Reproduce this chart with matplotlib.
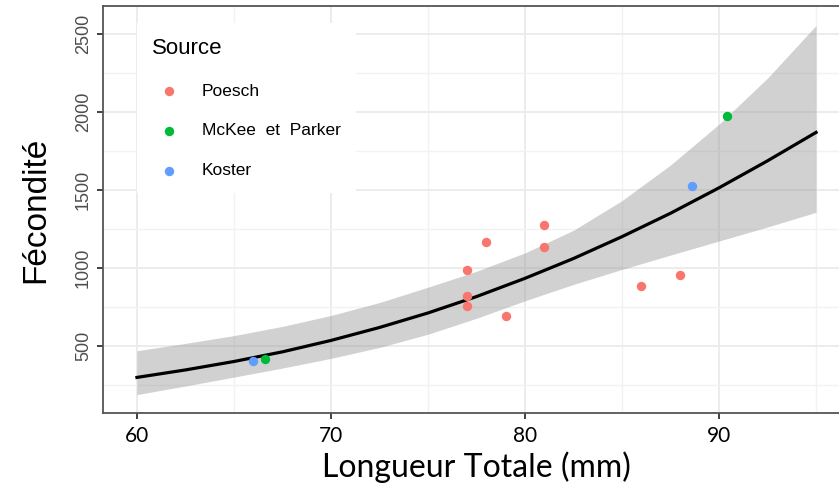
import matplotlib
matplotlib.use("Agg")
import matplotlib.pyplot as plt
from matplotlib.ticker import MultipleLocator

# points
poesch_x = [77.0, 77.0, 77.0, 78.0, 79.0, 81.0, 81.0, 86.0, 88.0]
poesch_y = [755, 824, 990, 1169, 691, 1135, 1277, 886, 957]
mckee_x = [66.6, 90.4]
mckee_y = [421, 1972]
koster_x = [66.0, 88.6]
koster_y = [405, 1528]

# fitted curve and its confidence band
fit_x = [60, 62.5, 65, 67.5, 70, 72.5, 75, 77.5, 80, 82.5, 85, 87.5, 90, 92.5, 95]
fit_y = [300, 348, 402, 464, 537, 620, 713, 818, 935, 1062, 1202, 1352, 1515, 1688, 1870]
band_low = [190, 245, 302, 360, 422, 492, 577, 679, 791, 896, 992, 1084, 1174, 1264, 1358]
band_high = [471, 518, 568, 627, 697, 780, 878, 980, 1098, 1243, 1433, 1661, 1923, 2218, 2555]

x_ticks = [60, 70, 80, 90]
y_ticks = [500, 1000, 1500, 2000, 2500]

fig = plt.figure(figsize=(8.39, 4.86), dpi=100)
ax = fig.add_axes([103 / 839, 1 - 413 / 486, 747 / 839, 407 / 486])

ax.fill_between(fit_x, band_low, band_high, color="#999999", alpha=0.45, lw=0, zorder=2)
ax.plot(fit_x, fit_y, color="black", lw=2.3, zorder=3)

ax.scatter(poesch_x, poesch_y, s=46, color="#F8766D", label="Poesch", zorder=4, lw=0)
ax.scatter(mckee_x, mckee_y, s=46, color="#00BA38", label="McKee  et  Parker", zorder=4, lw=0)
ax.scatter(koster_x, koster_y, s=46, color="#619CFF", label="Koster", zorder=4, lw=0)

ax.set_xlim(58.25, 96.75)
ax.set_ylim(72, 2680)
ax.set_xticks(x_ticks)
ax.set_yticks(y_ticks)
ax.xaxis.set_minor_locator(MultipleLocator(5))
ax.yaxis.set_minor_locator(MultipleLocator(250))
ax.grid(True, which="major", color="#EBEBEB", lw=1.3, zorder=0)
ax.grid(True, which="minor", color="#F2F2F2", lw=1.0, zorder=0)
ax.set_axisbelow(True)

for s in ax.spines.values():
    s.set_color("#555555")
    s.set_linewidth(1.3)

ax.tick_params(axis="both", which="major", length=4, width=1.3, color="#333333")
ax.tick_params(axis="both", which="minor", length=0)
ax.set_xticklabels([str(v) for v in x_ticks], fontsize=15, family="Lato", color="black")
ax.set_yticklabels([str(v) for v in y_ticks], fontsize=13, family="Liberation Sans",
                   color="#4D4D4D", rotation=90, va="center")
ax.tick_params(axis="x", pad=5)
ax.tick_params(axis="y", pad=4)

ax.set_xlabel("Longueur Totale (mm)", fontsize=23, family="Lato", labelpad=4)
ax.set_ylabel("Fécondité", fontsize=24, family="Liberation Sans", labelpad=17)

leg = ax.legend(title="Source", loc="upper left", bbox_to_anchor=(0.0455, 0.958),
                frameon=True, fancybox=False, framealpha=1, edgecolor="none",
                facecolor="white", fontsize=12.5, title_fontsize=16,
                labelspacing=1.42, handletextpad=0.9, borderpad=0.85,
                markerscale=1.0, borderaxespad=0)
leg._legend_box.align = "left"
for t in leg.get_texts():
    t.set_family("Liberation Sans")
leg.get_title().set_family("Liberation Sans")
leg.set_zorder(5)

fig.savefig("out.png", dpi=100)
